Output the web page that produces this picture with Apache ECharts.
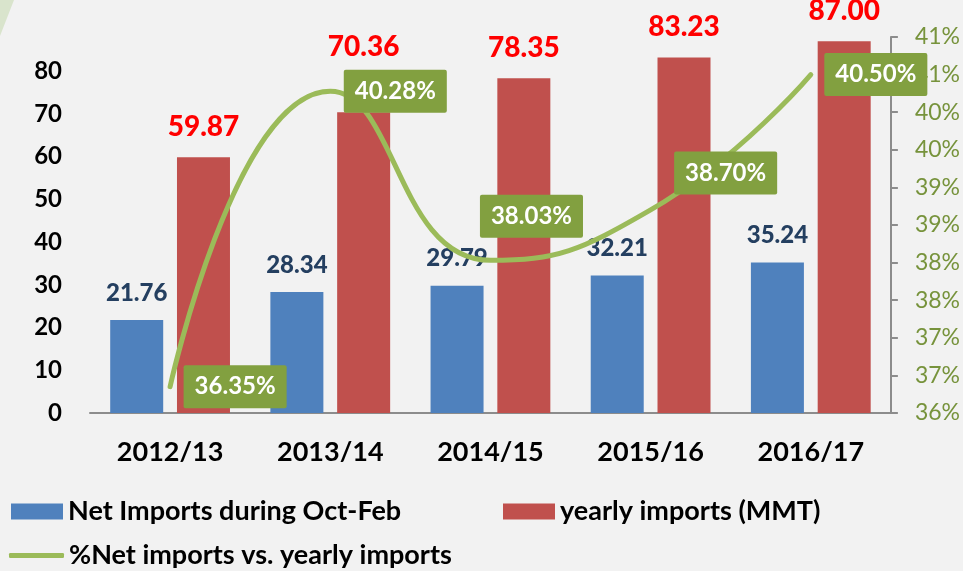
<!DOCTYPE html>
<html>
<head>
<meta charset="utf-8">
<script src="https://cdn.jsdelivr.net/npm/echarts@6/dist/echarts.min.js"></script>
<style>
  html, body { margin: 0; padding: 0; background: #f2f2f2; }
  #chart { width: 963px; height: 571px; }
</style>
</head>
<body>
<div id="chart"></div>
<script>
// data
var years = ['2012/13', '2013/14', '2014/15', '2015/16', '2016/17'];
var netImports = [21.76, 28.34, 29.79, 32.21, 35.24];
var yearlyImports = [59.87, 70.36, 78.35, 83.23, 87.00];
var netShare = [36.35, 40.28, 38.03, 38.70, 40.50];

// label nudges (styling only)
var shareLabelShift = [[0, 0], [0, 0], [-24, -44], [10, -37], [0, 0]];
var yearlyLabelLift = [0, 35, 0, 0, 0];

var FONT = 'Lato';
var legendText = { fontFamily: FONT, fontWeight: 'bold', fontSize: 27, color: '#000' };
var chart = echarts.init(document.getElementById('chart'));

chart.setOption({
  backgroundColor: '#f2f2f2',
  textStyle: { fontFamily: FONT },
  graphic: [{
    type: 'polygon',
    shape: { points: [[0, 0], [14, 0], [0, 36]] },
    style: { fill: '#d9e4cc' }
  }],
  grid: { left: 90, right: 70, top: 37, bottom: 158 },
  legend: [
    {
      data: ['Net Imports during Oct-Feb'], left: 11, top: 498, padding: 0,
      itemWidth: 52, itemHeight: 16, icon: 'rect', textStyle: legendText
    },
    {
      data: ['yearly imports (MMT)'], left: 503, top: 498, padding: 0,
      itemWidth: 52, itemHeight: 16, icon: 'rect', textStyle: legendText
    },
    {
      data: ['%Net imports vs. yearly imports'], left: 9, top: 542, padding: 0,
      itemWidth: 55, itemHeight: 5, icon: 'roundRect', textStyle: legendText
    }
  ],
  xAxis: {
    type: 'category',
    data: years,
    axisLine: { lineStyle: { color: '#8c8c8c', width: 2 } },
    axisTick: { show: false },
    axisLabel: { color: '#000', fontWeight: 'bold', fontSize: 27, margin: 26 }
  },
  yAxis: [
    {
      type: 'value',
      min: 0,
      max: 88,
      interval: 10,
      axisLine: { show: false },
      axisTick: { show: false },
      splitLine: { show: false },
      axisLabel: { color: '#000', fontWeight: 'bold', fontSize: 24, margin: 28, showMaxLabel: false }
    },
    {
      type: 'value',
      min: 36,
      max: 41,
      interval: 0.5,
      position: 'right',
      axisLine: { show: true, lineStyle: { color: '#8c8c8c', width: 2 } },
      axisTick: { show: true, length: 7, lineStyle: { color: '#8c8c8c', width: 2 } },
      splitLine: { show: false },
      axisLabel: {
        color: '#77933c', fontSize: 23, margin: 24,
        formatter: function (v) { return Math.round(v) + '%'; }
      }
    }
  ],
  series: [
    {
      name: 'Net Imports during Oct-Feb',
      type: 'bar',
      data: netImports,
      barWidth: 53,
      barGap: '26%',
      itemStyle: { color: '#4f81bd' },
      label: {
        show: true, position: 'top', distance: 15,
        color: '#243f60', fontWeight: 900, fontSize: 24,
        formatter: function (p) { return p.value.toFixed(2); }
      }
    },
    {
      name: 'yearly imports (MMT)',
      type: 'bar',
      data: yearlyImports.map(function (v, i) {
        return { value: v, label: { offset: [0, -yearlyLabelLift[i]] } };
      }),
      barWidth: 53,
      itemStyle: { color: '#c0504d' },
      label: {
        show: true, position: 'top', distance: 16,
        color: '#ff0000', fontWeight: 900, fontSize: 28,
        formatter: function (p) { return p.value.toFixed(2); }
      }
    },
    {
      name: '%Net imports vs. yearly imports',
      type: 'line',
      yAxisIndex: 1,
      data: netShare.map(function (v, i) {
        return { value: v, label: { offset: shareLabelShift[i] } };
      }),
      smooth: 0.5,
      symbol: 'circle',
      symbolSize: 1,
      showSymbol: true,
      z: 5,
      lineStyle: { color: '#9bbb59', width: 5, cap: 'round' },
      itemStyle: { color: '#9bbb59' },
      label: {
        show: true, position: 'right', distance: 13,
        color: '#fff', fontWeight: 'bold', fontSize: 24,
        backgroundColor: '#82a040', padding: [10, 11, 9, 11], borderRadius: 2,
        formatter: function (p) { return p.value.toFixed(2) + '%'; }
      }
    }
  ]
});
</script>
</body>
</html>
